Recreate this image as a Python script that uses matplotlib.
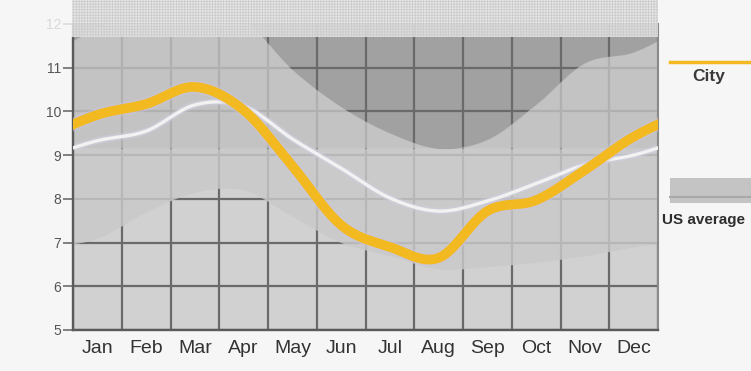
import numpy as np
import matplotlib
matplotlib.use("Agg")
import matplotlib.pyplot as plt
from matplotlib.patches import Rectangle
from matplotlib.lines import Line2D

plt.rcParams["font.family"] = "Liberation Sans"
plt.rcParams["hatch.linewidth"] = 0.6

months = ["Jan", "Feb", "Mar", "Apr", "May", "Jun",
          "Jul", "Aug", "Sep", "Oct", "Nov", "Dec"]
city = [9.92, 10.17, 10.56, 10.03, 8.75, 7.40, 6.90, 6.65, 7.72, 7.97, 8.66, 9.42]
us_avg = [9.33, 9.55, 10.15, 10.12, 9.37, 8.70, 8.02, 7.72, 7.95, 8.35, 8.78, 9.00]
band_low = [7.10, 7.70, 8.15, 8.20, 7.60, 7.00, 6.70, 6.40, 6.45, 6.55, 6.70, 6.90]
band_high = [11.90, 12.40, 12.50, 12.10, 10.95, 10.10, 9.50, 9.15, 9.35, 10.15, 11.10, 11.35]
band_split = 9.15


def smooth(vals, n=40):
    # periodic Catmull-Rom through the monthly values (placed mid-month)
    v = np.asarray(vals, dtype=float)
    p = np.concatenate([v[-2:], v, v[:2]])
    xk = np.arange(-2, 14) + 0.5
    xs, ys = [], []
    t = np.linspace(0, 1, n, endpoint=False)
    for i in range(1, len(p) - 2):
        p0, p1, p2, p3 = p[i - 1:i + 3]
        y = 0.5 * (2 * p1 + (-p0 + p2) * t
                   + (2 * p0 - 5 * p1 + 4 * p2 - p3) * t ** 2
                   + (-p0 + 3 * p1 - 3 * p2 + p3) * t ** 3)
        xs.append(xk[i] + t)
        ys.append(y)
    return np.concatenate(xs), np.concatenate(ys)


W, H = 751, 371
fig = plt.figure(figsize=(W / 100, H / 100), dpi=100, facecolor="#f6f6f6")
ax = fig.add_axes([73 / W, 1 - 330 / H, (658 - 73) / W, (330 - 24) / H])
ax.set_facecolor("#d1d1d1")
ax.set_xlim(0, 12)
ax.set_ylim(5, 12)

xs, lo = smooth(band_low)
_, hi = smooth(band_high)

# darker zone above the US band
ax.fill_between(xs, hi, 13, color="#a1a1a1", lw=0, zorder=0.2)

# US average band, two tones, laid over the grid
ax.fill_between(xs, lo, np.minimum(hi, band_split), where=lo < band_split,
                interpolate=True, color="#c9c9c9", alpha=0.82, lw=0, zorder=1)
ax.fill_between(xs, np.maximum(lo, band_split), hi, where=hi > band_split,
                interpolate=True, color="#c0c0c0", alpha=0.82, lw=0, zorder=1)

cx, cy = smooth(city)
ux, uy = smooth(us_avg)
ax.plot(ux, uy, color="#cfcfe4", lw=5, alpha=0.5, zorder=2, solid_capstyle="butt")
ax.plot(ux, uy, color="#f2f2f2", lw=2.4, zorder=3, solid_capstyle="butt")
ax.plot(cx, cy, color="#cbc6e2", lw=9.5, alpha=0.45, zorder=4, solid_capstyle="butt")
ax.plot(cx, cy, color="#f3b920", lw=7, zorder=5, solid_capstyle="butt")

# grid: vertical lines at month boundaries, labels mid-month
ax.set_axisbelow(True)
ax.set_xticks(np.arange(12) + 0.5)
ax.set_xticklabels(months, fontsize=14, color="#333333")
ax.set_xticks(np.arange(13), minor=True)
ax.tick_params(axis="x", which="both", length=0, pad=7)
ax.set_yticks(range(5, 13))
ax.set_yticklabels([str(v) for v in range(5, 13)], fontsize=10, color="#555555")
ax.tick_params(axis="y", length=7, width=1.3, color="#777777", pad=1.5)
ax.grid(True, which="minor", axis="x", color="#6a6a6a", lw=1.6)
ax.grid(True, which="major", axis="y", color="#6a6a6a", lw=1.6)
for side in ["left", "bottom"]:
    ax.spines[side].set_color("#5a5a5a")
    ax.spines[side].set_linewidth(1.7)
ax.spines["right"].set_color("#8a8a8a")
ax.spines["right"].set_linewidth(1.5)
ax.spines["top"].set_visible(False)

# header strip across the top
fig.add_artist(Rectangle((72 / W, 1 - 37 / H), (658 - 72) / W, 37 / H,
                         transform=fig.transFigure, facecolor="#e6e6e6",
                         edgecolor="#c9c9c9", hatch="++++++", lw=0,
                         alpha=0.88, zorder=10))
fig.add_artist(Rectangle((0, 1 - 37 / H), 72 / W, 37 / H,
                         transform=fig.transFigure, facecolor="#f6f6f6",
                         lw=0, alpha=0.82, zorder=10))

# legend on the right
fig.add_artist(Line2D([670 / W, 1], [1 - 62 / H] * 2, transform=fig.transFigure,
                      color="#f3b920", lw=2.5, zorder=11))
fig.text(709 / W, 1 - 77 / H, "City", ha="center", va="center",
         fontsize=12.5, fontweight="bold", color="#3a3a3a")
fig.add_artist(Rectangle((670 / W, 1 - 203 / H), (W - 670) / W, 25 / H,
                         transform=fig.transFigure, facecolor="#c4c4c4",
                         lw=0, zorder=11))
fig.add_artist(Line2D([670 / W, 1], [1 - 197 / H] * 2, transform=fig.transFigure,
                      color="#a9a9a9", lw=1.5, zorder=12))
fig.text(662 / W, 1 - 220 / H, "US average", ha="left", va="center",
         fontsize=11, fontweight="bold", color="#2e2e2e")

fig.savefig("out.png", dpi=100, facecolor=fig.get_facecolor())
